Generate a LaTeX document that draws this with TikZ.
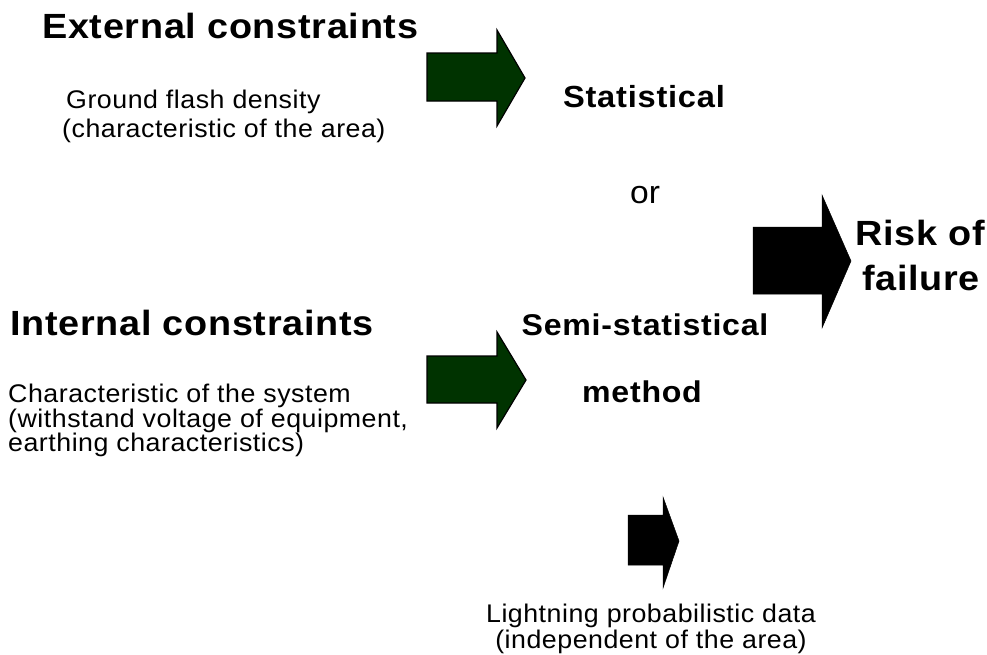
\documentclass[tikz,border=0pt]{standalone}
\usepackage{fontspec}
\setmainfont{Liberation Sans}
\newfontfamily\bigfont{Liberation Sans}[FakeStretch=1.08,LetterSpace=2]
\newfontfamily\midfont{Liberation Sans}[FakeStretch=1.07,LetterSpace=2.5]
\newfontfamily\smallfont{Liberation Sans}[FakeStretch=1.05,LetterSpace=2]
\newfontfamily\plainfont{Liberation Sans}[FakeStretch=1.05]
\definecolor{arrowgreen}{RGB}{0,51,0}
\tikzset{
  headtext/.style={inner sep=0pt, font=\bigfont\bfseries\fontsize{35}{42}\selectfont},
  midtext/.style={inner sep=0pt, font=\midfont\bfseries\fontsize{30}{36}\selectfont},
  stattext/.style={inner sep=0pt, font=\midfont\bfseries\fontsize{30.5}{37}\selectfont},
  smalltext/.style={inner sep=0pt, font=\smallfont\fontsize{25.5}{30}\selectfont},
  ortext/.style={inner sep=0pt, font=\plainfont\fontsize{32}{38}\selectfont},
  greenarrow/.style={fill=arrowgreen, draw=black, line width=1.2pt, line join=miter},
  blackarrow/.style={fill=black, draw=black, line width=0.5pt}
}
\begin{document}
\begin{tikzpicture}[x=1pt, y=-1pt]
\useasboundingbox (0,0) rectangle (987,654);

% green arrow 1
\draw[greenarrow] (427,53) -- (497,53) -- (497,30) -- (525,78) -- (497,126) -- (497,101) -- (427,101) -- cycle;
% green arrow 2
\draw[greenarrow] (427,356) -- (497,356) -- (497,332) -- (526,380) -- (497,428) -- (497,403) -- (427,403) -- cycle;
% big black arrow
\draw[blackarrow] (753,227) -- (822,227) -- (822,195) -- (851,261) -- (822,328) -- (822,294) -- (753,294) -- cycle;
% small black arrow
\draw[blackarrow] (628,515) -- (663,515) -- (663,497) -- (679,541) -- (663,588) -- (663,565) -- (628,565) -- cycle;

% texts
\node[headtext, anchor=base west] (ext) at (42,38) {External constraints};
\node[smalltext, anchor=base west] (gfd1) at (66,108) {Ground flash density};
\node[smalltext, anchor=base west] (gfd2) at (62,137) {(characteristic of the area)};

\node[headtext, anchor=base west] (int) at (10,335) {Internal constraints};
\node[smalltext, anchor=base west] (cs1) at (8,402) {Characteristic of the system};
\node[smalltext, anchor=base west] (cs2) at (8,427) {(withstand voltage of equipment,};
\node[smalltext, anchor=base west] (cs3) at (8,451) {earthing characteristics)};

\node[stattext, anchor=base] (stat) at (644,107) {Statistical};
\node[ortext, anchor=base] (or) at (645,203) {or};
\node[midtext, anchor=base] (semi) at (645,335) {Semi-statistical};
\node[midtext, anchor=base] (meth) at (642,402) {method};

\node[headtext, anchor=base] (risk1) at (920,245) {Risk of};
\node[headtext, anchor=base] (risk2) at (921,290) {failure};

\node[smalltext, anchor=base] (ld1) at (651,622) {Lightning probabilistic data};
\node[smalltext, anchor=base] (ld2) at (651,648) {(independent of the area)};
\end{tikzpicture}
\end{document}
